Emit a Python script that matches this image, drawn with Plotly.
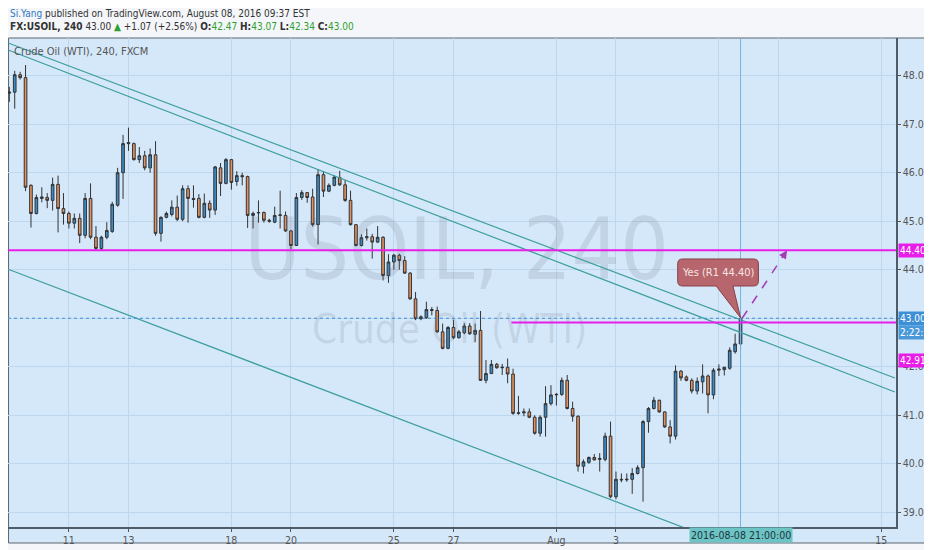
import plotly.graph_objects as go

# 4h candles FX:USOIL, bar index 0..135
opens = [47.64, 47.66, 48.02, 47.96, 45.74, 45.16, 45.47, 45.49, 45.43, 45.76,
         45.26, 45.16, 44.96, 45.06, 44.71, 45.47, 44.67, 44.44, 44.67, 44.79,
         45.33, 46.00, 46.60, 46.60, 46.27, 46.35, 46.10, 46.37, 44.75, 45.08,
         45.14, 45.29, 45.04, 45.67, 45.47, 45.47, 45.08, 45.37, 45.23, 46.10,
         45.78, 46.27, 45.82, 45.94, 45.92, 45.12, 45.17, 45.18, 45.02, 44.98,
         45.12, 45.12, 44.80, 44.50, 45.49, 45.59, 45.50, 44.93, 45.96, 45.62,
         45.74, 45.90, 45.75, 45.43, 44.93, 44.50, 44.66, 44.68, 44.57, 44.67,
         43.88, 44.16, 44.30, 44.19, 43.93, 43.40, 42.99, 43.01, 43.18, 43.16,
         42.72, 42.38, 42.81, 42.60, 42.70, 42.84, 42.67, 42.75, 41.72, 41.86,
         42.05, 41.98, 41.99, 41.85, 41.04, 41.05, 41.07, 40.96, 40.63, 40.96,
         41.24, 41.42, 41.43, 41.72, 41.14, 40.98, 39.95, 40.03, 40.13, 40.09,
         40.09, 40.57, 39.32, 39.68, 39.67, 39.68, 39.80, 39.92, 40.87, 41.14,
         41.31, 41.07, 40.76, 40.57, 41.91, 41.79, 41.72, 41.50, 41.69, 41.81,
         41.42, 41.93, 41.94, 41.97, 42.31, 42.47]
highs = [47.77, 48.10, 48.08, 48.22, 45.76, 45.55, 45.70, 45.58, 45.90, 45.94,
         45.58, 45.20, 45.16, 45.16, 45.58, 45.78, 44.90, 44.70, 44.98, 45.40,
         46.10, 46.78, 46.93, 46.62, 46.53, 46.45, 46.50, 46.65, 45.10, 45.20,
         45.43, 45.53, 45.74, 45.74, 45.74, 45.56, 45.57, 45.43, 46.14, 46.20,
         46.30, 46.27, 46.03, 46.00, 45.94, 45.20, 45.43, 45.20, 45.05, 45.30,
         45.63, 45.20, 44.82, 45.58, 45.64, 45.60, 45.67, 46.07, 46.03, 45.78,
         45.95, 46.04, 45.85, 45.63, 44.93, 44.73, 44.85, 44.74, 44.90, 44.69,
         44.32, 44.33, 44.33, 44.28, 43.95, 43.54, 43.06, 43.34, 43.23, 43.24,
         42.89, 42.84, 42.97, 42.76, 42.90, 42.90, 42.89, 43.15, 42.14, 42.14,
         42.08, 42.06, 42.17, 41.96, 41.40, 41.14, 41.14, 41.00, 41.00, 41.60,
         41.62, 41.46, 41.78, 41.83, 41.28, 41.00, 40.09, 40.15, 40.20, 40.22,
         40.64, 40.87, 39.84, 39.80, 39.80, 39.91, 39.97, 40.90, 41.17, 41.38,
         41.32, 41.08, 40.90, 42.03, 41.93, 41.82, 41.76, 41.78, 42.05, 41.84,
         41.97, 42.05, 42.00, 42.40, 42.68, 43.07]
lows = [47.46, 47.32, 47.92, 45.62, 44.87, 45.14, 45.39, 45.27, 45.22, 44.77,
        44.93, 44.85, 44.85, 44.55, 44.65, 44.63, 44.40, 44.40, 44.63, 44.76,
        45.30, 45.46, 46.45, 46.25, 46.20, 46.05, 46.00, 44.70, 44.58, 45.06,
        45.10, 45.00, 45.00, 44.97, 45.28, 45.06, 45.06, 45.07, 45.13, 45.52,
        45.76, 45.65, 45.73, 45.74, 44.86, 44.85, 44.97, 44.97, 44.97, 44.96,
        44.85, 44.78, 44.42, 44.50, 45.44, 45.38, 44.89, 44.52, 45.50, 45.60,
        45.72, 45.73, 45.40, 44.91, 44.48, 44.48, 44.60, 44.23, 44.55, 43.78,
        43.73, 44.00, 44.00, 43.92, 43.38, 42.96, 42.96, 42.99, 43.06, 42.70,
        42.36, 42.36, 42.57, 42.58, 42.67, 42.66, 42.51, 41.71, 41.66, 41.85,
        41.96, 41.83, 41.66, 41.01, 41.01, 40.98, 40.94, 40.60, 40.56, 40.56,
        41.20, 41.20, 41.40, 41.12, 40.87, 39.84, 39.80, 40.00, 40.07, 39.84,
        40.05, 39.29, 39.27, 39.62, 39.63, 39.38, 39.78, 39.22, 40.64, 41.12,
        41.05, 40.74, 40.42, 40.50, 41.71, 41.70, 41.45, 41.43, 41.45, 41.04,
        41.33, 41.81, 41.82, 41.94, 42.27, 42.34]
closes = [47.66, 48.02, 47.96, 45.70, 45.16, 45.49, 45.50, 45.43, 45.76, 45.26,
          45.16, 44.96, 45.06, 44.71, 45.47, 44.67, 44.44, 44.67, 44.81, 45.35,
          46.00, 46.60, 46.62, 46.27, 46.35, 46.10, 46.37, 44.75, 45.08, 45.16,
          45.29, 45.04, 45.67, 45.47, 45.45, 45.08, 45.37, 45.23, 46.12, 45.78,
          46.27, 45.80, 45.94, 45.92, 45.12, 45.16, 45.18, 45.02, 45.00, 45.12,
          45.13, 44.80, 44.50, 45.49, 45.59, 45.49, 44.93, 45.96, 45.62, 45.74,
          45.91, 45.75, 45.43, 44.93, 44.50, 44.66, 44.68, 44.57, 44.67, 43.88,
          44.16, 44.30, 44.19, 43.93, 43.40, 42.99, 43.03, 43.18, 43.16, 42.72,
          42.38, 42.81, 42.60, 42.72, 42.84, 42.68, 42.75, 41.72, 41.86, 42.05,
          41.98, 41.99, 41.85, 41.04, 41.05, 41.07, 40.96, 40.63, 40.96, 41.24,
          41.42, 41.43, 41.72, 41.14, 40.98, 39.95, 40.04, 40.13, 40.08, 40.11,
          40.57, 39.32, 39.68, 39.67, 39.68, 39.80, 39.92, 40.87, 41.14, 41.31,
          41.07, 40.76, 40.57, 41.91, 41.77, 41.72, 41.50, 41.70, 41.81, 41.42,
          41.93, 41.95, 41.99, 42.34, 42.47, 43.00]
bars = list(range(len(closes)))

# date ticks (bar index -> label); 8 and 10 sit under the crosshair label
tick_pos = [11, 22, 41, 52, 71, 82, 101, 112, 131, 142, 161]
tick_txt = ["11", "13", "18", "20", "25", "27", "Aug", "3", "", "", "15"]
price_ticks = [39, 40, 41, 42, 43, 44, 45, 46, 47, 48]

# drawings
trend_x = [-0.2, 163.5]
trend_upper1 = [48.674, 41.768]
trend_upper2 = [48.53, 41.48]
trend_lower = [44.01, 37.02]
r1_level = 44.40
break_level = 42.91
break_start = 92.7
target_x = 143.6

PLOT_BG = "#d5e8fa"
GRID = "#bdd7ef"
MAGENTA = "#e81ee8"
TEAL = "#3c9e9e"
FONT = "DejaVu Sans Condensed, DejaVu Sans, sans-serif"
last = bars[-1]

fig = go.Figure()

# watermark (behind everything)
fig.add_trace(go.Scatter(
    x=[82.6, 81.3], y=[44.24, 42.69], mode="text",
    text=["USOIL, 240", "Crude Oil (WTI)"],
    textfont=dict(family=FONT, size=[85, 40], color="rgba(95,105,120,0.17)"),
    hoverinfo="skip", showlegend=False))

for ys in (trend_upper1, trend_upper2, trend_lower):
    fig.add_trace(go.Scatter(x=trend_x, y=ys, mode="lines",
                             line=dict(color=TEAL, width=1.2),
                             hoverinfo="skip", showlegend=False))

fig.add_trace(go.Candlestick(
    x=bars, open=opens, high=highs, low=lows, close=closes,
    increasing=dict(fillcolor="#3a8cc8", line=dict(color="#333333", width=1)),
    decreasing=dict(fillcolor="#e3915f", line=dict(color="#333333", width=1)),
    whiskerwidth=0, showlegend=False))

shapes = [
    # chart frame incl. axis strips
    dict(type="rect", xref="paper", yref="paper", x0=0.0006, x1=1.0349,
         y0=-0.0327, y1=1.0, fillcolor=PLOT_BG, line=dict(color="#5c6670", width=1),
         layer="below"),
    dict(type="line", xref="paper", yref="y", x0=0, x1=1, y0=closes[-1], y1=closes[-1],
         line=dict(color="#3d8fd6", width=1, dash="dot")),
    dict(type="line", xref="x", yref="paper", x0=last, x1=last, y0=0, y1=1,
         line=dict(color="#74b4e0", width=1)),
    dict(type="line", xref="paper", yref="y", x0=0, x1=1, y0=r1_level, y1=r1_level,
         line=dict(color=MAGENTA, width=2)),
    dict(type="line", xref="x", yref="y", x0=break_start, x1=163.7,
         y0=break_level, y1=break_level, line=dict(color=MAGENTA, width=2)),
    dict(type="line", xref="x", yref="y", x0=last + 0.3, x1=target_x - 0.6,
         y0=closes[-1], y1=r1_level - 0.1,
         line=dict(color="#a43cb4", width=1.5, dash="dash")),
]

# callout bubble with pointer to last bar
bx0, bx1, by0, by1 = 123.4, 138.3, 43.665, 44.222
rx, ry = 0.9, 0.1
bubble = (f"M {bx0+rx},{by1} L {bx1-rx},{by1} Q {bx1},{by1} {bx1},{by1-ry} "
          f"L {bx1},{by0+ry} Q {bx1},{by0} {bx1-rx},{by0} "
          f"L {last-1.4},{by0} L {last},{highs[-1]-0.06} L {last-4.5},{by0} "
          f"L {bx0+rx},{by0} Q {bx0},{by0} {bx0},{by0+ry} "
          f"L {bx0},{by1-ry} Q {bx0},{by1} {bx0+rx},{by1} Z")
shapes.append(dict(type="path", xref="x", yref="y", path=bubble,
                   fillcolor="#b6666c", line=dict(color="#8c3e46", width=1)))

green = "#2ea02e"
annotations = [
    dict(xref="paper", yref="paper", x=0, y=1.0495, xanchor="left", yanchor="middle",
         showarrow=False, font=dict(family=FONT, size=10, color="#333"),
         text="<span style='color:#2f78c4'>Si.Yang</span> published on TradingView.com, "
              "August 08, 2016 09:37 EST"),
    dict(xref="paper", yref="paper", x=0, y=1.0235, xanchor="left", yanchor="middle",
         showarrow=False, font=dict(family=FONT, size=10, color="#333"),
         text=f"<b>FX:USOIL, 240</b> 43.00 <span style='color:{green}'>▲</span> +1.07 (+2.56%) "
              f"<b>O:</b><span style='color:{green}'>{opens[-1]:.2f}</span> "
              f"<b>H:</b><span style='color:{green}'>{highs[-1]:.2f}</span> "
              f"<b>L:</b><span style='color:{green}'>{lows[-1]:.2f}</span> "
              f"<b>C:</b><span style='color:{green}'>{closes[-1]:.2f}</span>"),
    dict(xref="paper", yref="paper", x=0.005, y=0.9714, xanchor="left", yanchor="middle",
         showarrow=False, font=dict(family=FONT, size=11, color="#555"),
         text="Crude Oil (WTI), 240, FXCM"),
    dict(xref="x", yref="y", x=(bx0 + bx1) / 2, y=(by0 + by1) / 2, showarrow=False,
         text="Yes (R1 44.40)", font=dict(family=FONT, size=11, color="#f6e6e6")),
    # arrow head of projection
    dict(xref="x", yref="y", axref="x", ayref="y", x=target_x, y=r1_level,
         ax=target_x - 0.9, ay=r1_level - 0.15, text="", showarrow=True,
         arrowhead=2, arrowsize=1.1, arrowwidth=1.5, arrowcolor="#a43cb4"),
    # price labels on right scale
    dict(xref="paper", yref="y", x=1.002, y=r1_level, xanchor="left", showarrow=False,
         text=f"{r1_level:.2f}", bgcolor=MAGENTA, borderpad=1,
         font=dict(family=FONT, size=10, color="white")),
    dict(xref="paper", yref="y", x=1.002, y=closes[-1], xanchor="left", showarrow=False,
         text=f"{closes[-1]:.2f}", bgcolor="#3d8fd6", borderpad=1,
         font=dict(family=FONT, size=10, color="white")),
    dict(xref="paper", yref="y", x=1.002, y=42.716, xanchor="left", showarrow=False,
         text="2:22:39", bgcolor="#4a98d8", borderpad=1,
         font=dict(family=FONT, size=10, color="white")),
    dict(xref="paper", yref="y", x=1.002, y=42.12, xanchor="left", showarrow=False,
         text=f"{break_level:.2f}", bgcolor=MAGENTA, borderpad=1,
         font=dict(family=FONT, size=10, color="white")),
    # crosshair time label
    dict(xref="x", yref="paper", x=last, y=-0.001, yanchor="top", showarrow=False,
         text="2016-08-08 21:00:00", bgcolor="#6cc4c4", borderpad=1,
         font=dict(family=FONT, size=10.5, color="#1f3440")),
]

# page is offset 8px by the body margin, so figure is sized to fit inside
fig.update_layout(
    width=924, height=542,
    margin=dict(l=0, r=36, t=30, b=23),
    paper_bgcolor="#f4f6f9", plot_bgcolor="rgba(0,0,0,0)",
    font=dict(family=FONT, size=10.5, color="#555"),
    shapes=shapes, annotations=annotations, showlegend=False,
    xaxis=dict(range=[-0.24, 163.7], tickvals=tick_pos, ticktext=tick_txt,
               showgrid=True, gridcolor=GRID, zeroline=False,
               showline=True, linecolor="#4f5b66", linewidth=1.5,
               ticks="outside", ticklen=3, tickcolor="#555",
               rangeslider=dict(visible=False), fixedrange=True),
    yaxis=dict(range=[38.697, 48.777], side="right", tickvals=price_ticks,
               ticktext=[f"{v:.2f}" for v in price_ticks],
               showgrid=True, gridcolor=GRID, zeroline=False,
               showline=True, linecolor="#4f5b66", linewidth=1.5,
               ticks="outside", ticklen=3, tickcolor="#555"),
)

fig.write_html("out.html")
